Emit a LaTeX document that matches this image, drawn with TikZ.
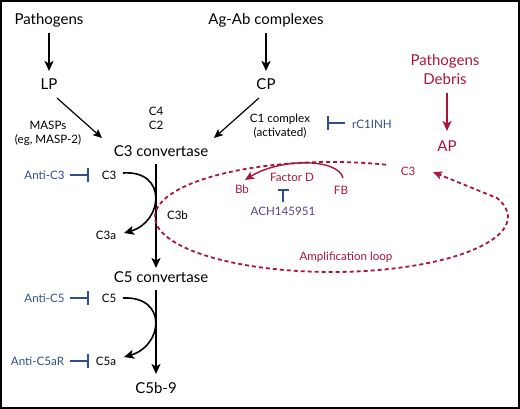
\documentclass[tikz,border=0pt]{standalone}
\usepackage{fontspec}
\setmainfont{Lato}
\usetikzlibrary{arrows.meta}
\definecolor{crim}{RGB}{168,22,58}
\definecolor{inhblue}{RGB}{48,78,140}
\definecolor{purp}{RGB}{92,62,132}
\begin{document}
\begin{tikzpicture}[x=1pt,y=-1pt,
  big/.style={font=\fontsize{15}{19}\selectfont, inner sep=0pt, align=center},
  small/.style={font=\fontsize{11.6}{14}\selectfont, inner sep=0pt, align=center},
  arr/.style={line width=1.6pt, -{Stealth[length=10pt,width=9pt,inset=2.5pt]}},
  thinarr/.style={line width=1.2pt, -{Stealth[length=9pt,width=8pt,inset=2pt]}},
  inh/.style={line width=1.4pt, inhblue, -{Bar[width=14pt,line width=1.6pt]}},
  loopline/.style={crim, line width=1.8pt, dash pattern=on 4pt off 3pt},
]
\useasboundingbox (0,0) rectangle (520,409);
\draw[line width=2pt] (1,1) rectangle (519,408);

% black nodes
\node[big] (path1) at (49,20) {Pathogens};
\node[big] (lp) at (49,84) {LP};
\node[big] (agab) at (266,20) {Ag-Ab complexes};
\node[big] (cp) at (266,84) {CP};
\node[small] (masp) at (48,133) {MASPs\\(eg, MASP-2)};
\node[small] (c4c2) at (156,118) {C4\\C2};
\node[small] (c1) at (280,126) {C1 complex\\(activated)};
\node[small, text=inhblue] (rc1) at (372,124) {rC1INH};
\node[big] (c3conv) at (161,151) {C3 convertase};
\node[small] (c3) at (109,175) {C3};
\node[small, text=inhblue] (antic3) at (44.5,175) {Anti-C3};
\node[small] (c3a) at (106,235) {C3a};
\node[small] (c3b) at (177.5,215) {C3b};
\node[big] (c5conv) at (161,277) {C5 convertase};
\node[small] (c5) at (109,298) {C5};
\node[small, text=inhblue] (antic5) at (44.5,298) {Anti-C5};
\node[small] (c5a) at (106,361) {C5a};
\node[small, text=inhblue] (antic5ar) at (37.5,361) {Anti-C5aR};
\node[big] (c5b9) at (156,388) {C5b-9};

% red nodes
\node[big, text=crim] (pathdeb) at (445,70) {Pathogens\\Debris};
\node[big, text=crim] (ap) at (447,146) {AP};
\node[small, text=crim] (c3red) at (408,171) {C3};
\node[small, text=crim] (bb) at (242,189) {Bb};
\node[small, text=crim] (fb) at (341,190) {FB};
\node[small, text=crim] (factd) at (292,177) {Factor D};
\node[small, text=purp] (ach) at (283,211) {ACH145951};
\node[small, text=crim] (amp) at (346,257) {Amplification loop};

% black arrows
\draw[arr] ([shift={(0,13)}]path1.center) -- ([shift={(0,-13)}]lp.center);
\draw[arr] ([shift={(0,13)}]agab.center) -- ([shift={(0,-13)}]cp.center);
\draw[thinarr] ([shift={(8,14)}]lp.center) -- ([shift={(-59,-13)}]c3conv.center);
\draw[thinarr] ([shift={(-7,14)}]cp.center) -- ([shift={(53,-13)}]c3conv.center);
\draw[arr] ([shift={(-5,13)}]c3conv.center) -- ([shift={(-5,-9)}]c5conv.center);
\draw[arr] ([shift={(-5,13)}]c5conv.center) -- ([shift={(0,-14)}]c5b9.center);
\draw[arr] ([shift={(14,-2)}]c3.center) .. controls (168,170) and (163,222) .. ([shift={(18,-2)}]c3a.center);
\draw[arr] ([shift={(14,0)}]c5.center) .. controls (168,296) and (163,346) .. ([shift={(18,-4)}]c5a.center);

% inhibitors
\draw[inh] ([shift={(25.5,0)}]antic3.center) -- ([shift={(-20,0)}]c3.center);
\draw[inh] ([shift={(25.5,0)}]antic5.center) -- ([shift={(-20,0)}]c5.center);
\draw[inh] ([shift={(32.5,0)}]antic5ar.center) -- ([shift={(-17,0)}]c5a.center);
\draw[inh] ([shift={(-27,-1)}]rc1.center) -- ([shift={(47,-3)}]c1.center);
\draw[line width=1.4pt, inhblue, -{Bar[width=11pt,line width=1.6pt]}] ([shift={(0,-9)}]ach.center) -- ([shift={(0,-22)}]ach.center);

% red
\draw[arr, crim] ([shift={(2,23)}]pathdeb.center) -- ([shift={(0,-15)}]ap.center);
\draw[thinarr, crim, line width=1.4pt] ([shift={(2,-12)}]fb.center) .. controls (338,158) and (280,158) .. ([shift={(3,-9)}]bb.center);
\draw[loopline, -{Stealth[length=9pt,width=8pt,inset=2pt]}] (331.5,217) ++(72:176.5pt and 55pt)
  arc[start angle=72, end angle=380, x radius=176.5pt, y radius=55pt]
  -- ([shift={(25,1)}]c3red.center);
\end{tikzpicture}
\end{document}
